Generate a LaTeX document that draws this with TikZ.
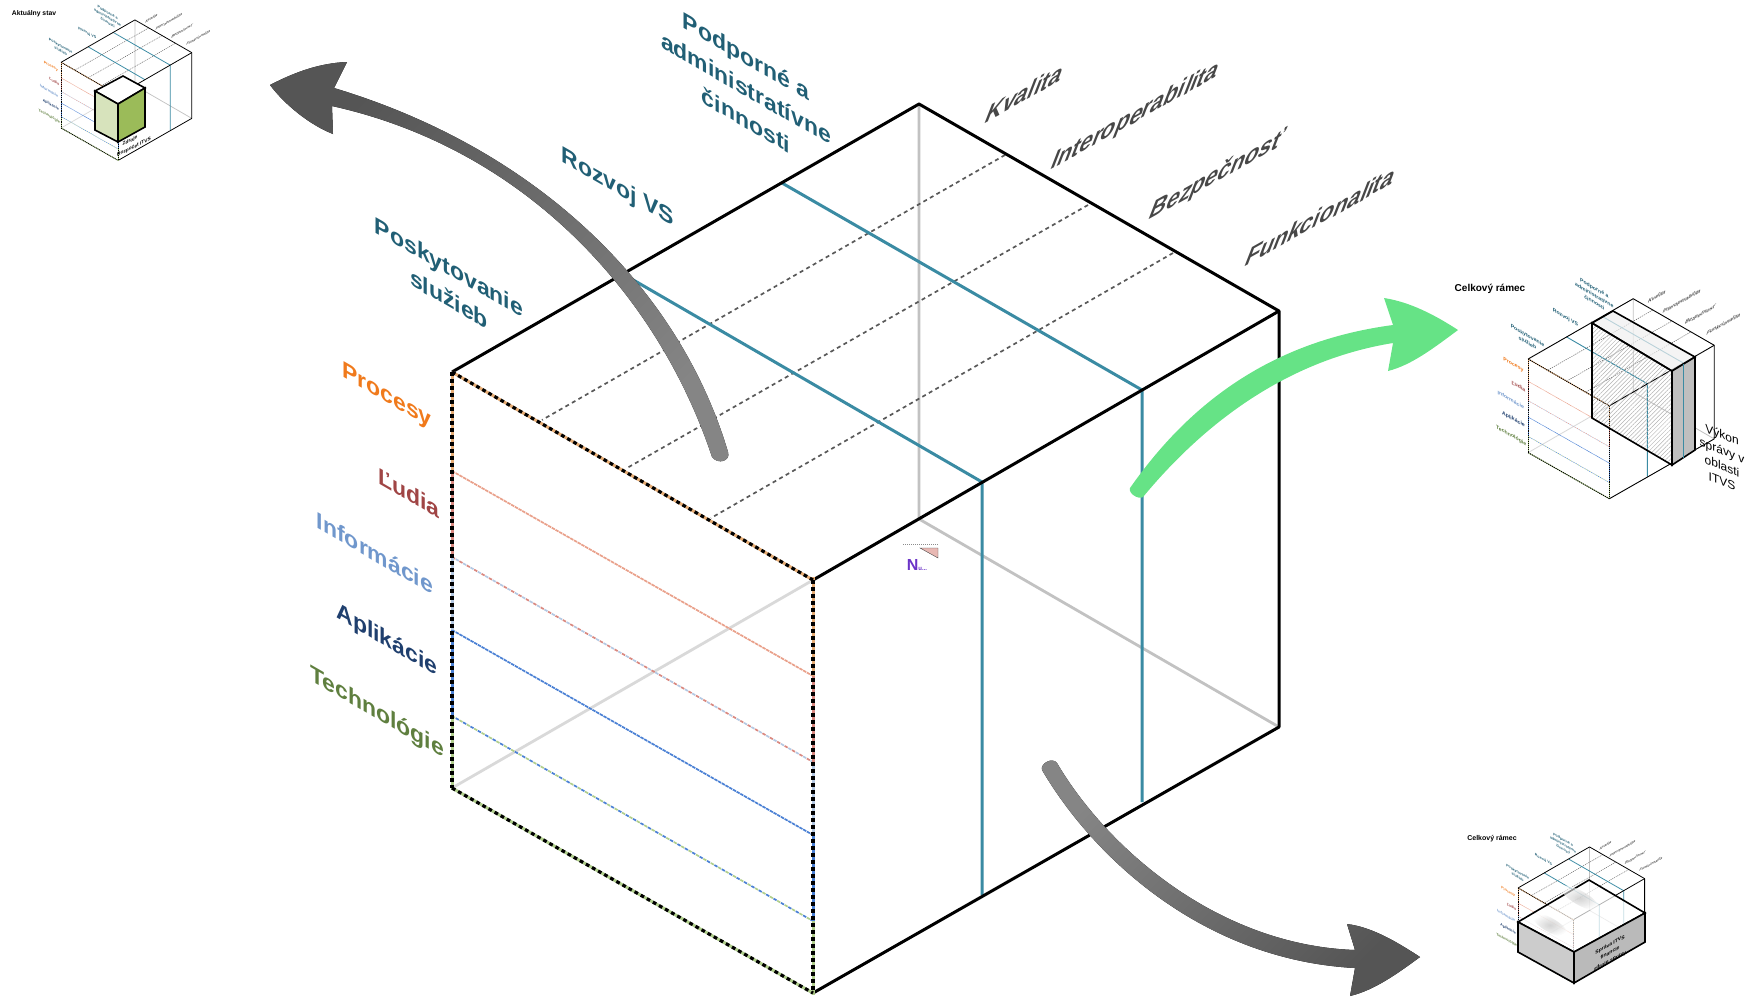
\documentclass[tikz,border=0pt]{standalone}
\usepackage{fontspec}
\setmainfont{Liberation Sans}
\usetikzlibrary{patterns.meta}

\newlength{\du}
\setlength{\du}{0.5pt}
\newlength{\lw}

\definecolor{tealline}{HTML}{3A8BA3}
\definecolor{teallabel}{HTML}{215F75}
\definecolor{dotgray}{HTML}{595959}
\definecolor{greenarrow}{HTML}{66E386}
\definecolor{arrowdark}{HTML}{555555}
\definecolor{arrowlight}{HTML}{858585}
\definecolor{colprocesy}{HTML}{F07A1C}
\definecolor{colludia}{HTML}{A04545}
\definecolor{colinfo}{HTML}{7097CC}
\definecolor{colaplik}{HTML}{1F3F6E}
\definecolor{coltech}{HTML}{5F7F3F}
\definecolor{dashtan}{HTML}{E6AC74}
\definecolor{dashrose}{HTML}{D98880}
\definecolor{dashorange}{HTML}{E9A08A}
\definecolor{dashblue}{HTML}{4A80D4}
\definecolor{dashpale}{HTML}{B4C8E2}
\definecolor{dashgreen}{HTML}{B0CE8C}
\definecolor{boxlight}{HTML}{D7E3BC}
\definecolor{boxgreen}{HTML}{9BBB59}

\tikzset{
  edgeline/.style={line width=3\lw,black,line join=miter},
  backline/.style={line width=2.8\lw,color=#1},
  tealstroke/.style={line width=3\lw,tealline},
  dotline/.style={line width=1.7\lw,dotgray,dash pattern=on 4\lw off 3.5\lw},
  blackdash/.style={line width=3.2\lw,black,dash pattern=on 3.8\lw off 3.2\lw},
  basedash/.style={line width=3\lw,color=#1},
  firstdash/.style={line width=1.7\lw,color=#1,dash pattern=on 3.5\lw off 5\lw},
  seconddash/.style={line width=1.7\lw,color=#1,dash pattern=on 3.5\lw off 5\lw,dash phase=4.25\lw},
  downlabel/.style={cm={1,-.577,0,1,(0,0)},transform shape,inner sep=0pt,align=center,
    font=\fontsize{11.5}{16}\selectfont\bfseries},
  uplabel/.style={cm={1,.56,.47,1.21,(0,0)},transform shape,inner sep=0pt,text=black!72,
    font=\fontsize{11.5}{13.5}\selectfont\bfseries},
  captionlabel/.style={inner sep=0pt,font=\fontsize{#1}{#1}\selectfont\bfseries},
  thickbox/.style={line width=1.6\du,black,line join=miter},
  darkbend/.style={top color=arrowdark,bottom color=arrowlight,shading angle=#1},
}

% whole frame, #1 is the line unit, #2 the lower end of the second teal line
\newcommand{\framecube}[2]{
\setlength{\lw}{#1\du}
\coordinate (frontleft) at (452,372);
\coordinate (fronttop) at (813,580);
\coordinate (backtop) at (919,104);
\coordinate (righttop) at (1279,311);
\coordinate (leftbottom) at (452,788);
\coordinate (frontbottom) at (813,993);
\coordinate (rightbottom) at (1279,727);
\coordinate (backbottom) at (919,519);
\draw[backline=black!24] (backtop)--(backbottom)--(rightbottom);
\draw[backline=black!15] (backbottom)--(leftbottom);
\draw[dotline] (1005,155)--(542,420);
\draw[dotline] (1088,205)--(627,468);
\draw[dotline] (1173,253)--(711,518);
\draw[tealstroke] (782,183)--(1142,390)--(1142,802);
\draw[tealstroke] (623,274)--(982,482)--(982,#2);
\foreach \ya/\yb/\cola/\colb in {471/676/dashorange/dashorange,557/762/dashrose/dashpale,630/835/dashblue/dashblue,716/921/dashgreen/dashblue}{
  \draw[firstdash=\cola] (452,\ya)--(813,\yb);
  \draw[seconddash=\colb] (452,\ya)--(813,\yb);
}
\draw[edgeline,line join=bevel] (frontleft)--(backtop)--(righttop)--(rightbottom)--(frontbottom);
\draw[edgeline] (fronttop)--(righttop);
\draw[basedash=dashtan] (frontleft)--(fronttop);
\draw[basedash=dashgreen] (leftbottom)--(frontbottom);
\foreach \xa in {452,813}{
  \pgfmathsetmacro{\shiftb}{\xa==813 ? 205 : 0}
  \draw[basedash=dashtan] (\xa,372+\shiftb)--(\xa,471+\shiftb);
  \draw[basedash=dashrose] (\xa,471+\shiftb)--(\xa,557+\shiftb);
  \draw[basedash=dashpale] (\xa,557+\shiftb)--(\xa,630+\shiftb);
  \draw[basedash=dashblue] (\xa,630+\shiftb)--(\xa,716+\shiftb);
  \draw[basedash=dashgreen] (\xa,716+\shiftb)--(\xa,790+\shiftb);
}
\draw[blackdash] (frontleft)--(fronttop);
\draw[blackdash] (leftbottom)--(frontbottom);
\draw[blackdash] (frontleft)--(leftbottom);
\draw[blackdash] (fronttop)--(frontbottom);
\node[downlabel,text=colprocesy] (procesy) at (387,397) {Procesy};
\node[downlabel,text=colludia] (ludia) at (409,493) {Ľudia};
\node[downlabel,text=colinfo] (informacie) at (375,553) {Informácie};
\node[downlabel,text=colaplik] (aplikacie) at (387,641) {Aplikácie};
\node[downlabel,text=coltech] (technologie) at (377,713) {Technológie};
\node[downlabel,text=teallabel] (poskytovanie) at (449,283) {Poskytovanie\\služieb};
\node[downlabel,text=teallabel] (rozvoj) at (618,188) {Rozvoj VS};
\node[downlabel,text=teallabel] (podporne) at (746,88) {Podporné a\\administratívne\\činnosti};
\node[uplabel] (kvalita) at (1025,93) {Kvalita};
\node[uplabel] (interop) at (1135,117) {Interoperabilita};
\node[uplabel] (bezpecnost) at (1217,176) {Bezpečnosť};
\node[uplabel] (funkcionalita) at (1321,216) {Funkcionalita};
}

\begin{document}
\begin{tikzpicture}[x=\du,y=-\du]
\useasboundingbox (0,0) rectangle (1748,997);

% large frame
\framecube{1}{895}

% small mark under the back corner
\draw[black!45,line width=.5\du,dash pattern=on 1\du off 1\du] (903,544)--(938,544);
\fill[draw=black!70,line width=.4\du,fill=dashrose!60] (920,548)--(938,548)--(938,558)--cycle;
\node[inner sep=0pt,text=violet!55!blue!80,font=\fontsize{3}{3}\selectfont\bfseries] (marklabel) at (917,565) {{\fontsize{8}{8}\selectfont N}u...};

% arrows
\fill[darkbend=45] (270,85) .. controls (295,72) and (320,63) .. (347,62)--(334,88)
  .. controls (540,150) and (680,290) .. (728,452) .. controls (731,461) and (718,465) .. (712,457)
  .. controls (660,300) and (530,150) .. (332,106)--(333,134)
  .. controls (310,125) and (285,105) .. (270,85)--cycle;
\fill[greenarrow] (1458,330) .. controls (1435,315) and (1410,302) .. (1384,298)--(1393,325)
  .. controls (1280,340) and (1195,395) .. (1130,488) .. controls (1128,493) and (1138,500) .. (1143,497)
  .. controls (1215,410) and (1300,358) .. (1393,343)--(1388,371)
  .. controls (1412,365) and (1435,347) .. (1458,330)--cycle;
\fill[darkbend=225] (1420,957) .. controls (1397,942) and (1372,927) .. (1347,924)--(1355,950)
  .. controls (1215,945) and (1105,845) .. (1057,763) .. controls (1053,757) and (1040,763) .. (1042,770)
  .. controls (1095,860) and (1205,960) .. (1355,968)--(1350,996)
  .. controls (1375,990) and (1398,973) .. (1420,957)--cycle;

% upper left small frame
\begin{scope}[shift={(-10.3,3.5)},scale=.158]
\framecube{.26}{482}
\end{scope}
\node[captionlabel=3.4] (staylabel) at (34,14) {Aktuálny stav};
\filldraw[thickbox,fill=white] (95,91)--(123,76)--(145,88)--(118,104)--cycle;
\filldraw[thickbox,fill=boxlight] (95,91)--(118,104)--(118,142)--(95,130)--cycle;
\filldraw[thickbox,fill=boxgreen] (118,104)--(145,88)--(145,127)--(118,142)--cycle;
\node[inner sep=0pt,cm={1,.5,0,1,(0,0)},font=\fontsize{2.4}{2.4}\selectfont\bfseries] (boxtop) at (130,141) {Zdroje};
\node[inner sep=0pt,cm={1,.5,0,1,(0,0)},font=\fontsize{2.4}{2.4}\selectfont\bfseries] (boxlow) at (134,147) {Rozpočet ITVS};

% right small frame
\begin{scope}[shift={(1426.4,275.3)},scale=.225]
\framecube{.3}{895}
\end{scope}
\node[captionlabel=5] (totallabel) at (1490,289) {Celkový rámec};
\fill[pattern={Lines[angle=45,distance=1.5pt,line width=.25pt]},pattern color=black!30] (1592,323)--(1672,371)--(1672,465)--(1592,418)--cycle;
\filldraw[thickbox,fill=black!6,fill opacity=.7] (1592,323)--(1613,311)--(1695,357)--(1672,371)--cycle;
\filldraw[thickbox,fill=black!25] (1672,371)--(1695,357)--(1695,450)--(1672,465)--cycle;
\draw[thickbox] (1592,323)--(1672,371)--(1672,465)--(1592,418)--cycle;
\coordinate (slabtop) at (1683,364);
\coordinate (slabbottom) at (1683,458);
\draw[tealline,line width=.9\du] (slabtop)--(slabbottom);
\node[inner sep=0pt,align=center,cm={1,-.4,0,1,(0,0)},font=\fontsize{6}{7.8}\selectfont] (vykon) at (1722,458) {Výkon\\správy v\\oblasti\\ITVS};

% lower small frame
\begin{scope}[shift={(1448.9,831)},scale=.153]
\framecube{.26}{895}
\end{scope}
\node[captionlabel=3.5] (framelabel) at (1492,839) {Celkový rámec};
\filldraw[thickbox,fill=white,fill opacity=.7] (1518,922)--(1589,880)--(1645,913)--(1574,952)--cycle;
\shade[inner color=black!28,outer color=white,opacity=.6,rotate around={-30:(1580,898)}] (1580,898) ellipse (22 and 7);
\shade[inner color=black!28,outer color=white,opacity=.6,rotate around={-30:(1550,925)}] (1550,925) ellipse (20 and 7);
\filldraw[thickbox,fill=black!20] (1518,922)--(1574,952)--(1574,983)--(1518,952)--cycle;
\filldraw[thickbox,fill=black!27] (1574,952)--(1645,913)--(1645,942)--(1574,983)--cycle;
\node[inner sep=0pt,align=center,cm={1,.55,0,1,(0,0)},font=\fontsize{2.5}{4}\selectfont\bfseries] (slabtext) at (1610,953) {Správa ITVS\\financie\\zdroje správy};
\end{tikzpicture}
\end{document}
